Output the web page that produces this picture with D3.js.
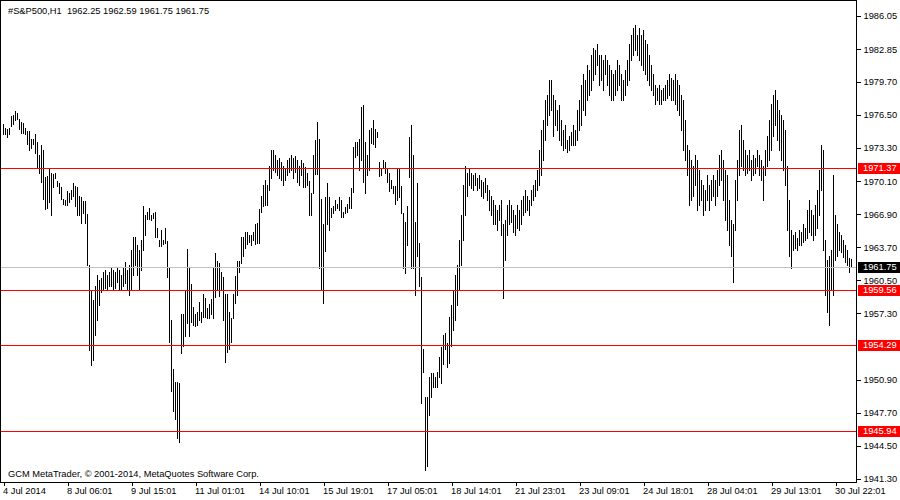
<!DOCTYPE html>
<html><head><meta charset="utf-8">
<script src="https://cdn.jsdelivr.net/npm/d3@7"></script>
<style>
html,body{margin:0;padding:0;background:#fff;}
svg text{font-family:"Liberation Sans",Arial,sans-serif;font-size:9.3px;white-space:pre;}
</style></head>
<body>
<svg id="c" width="900" height="500"></svg>
<script>
const title = "#S&P500,H1  1962.25 1962.59 1961.75 1961.75";
const footer = "GCM MetaTrader, \u00a9 2001-2014, MetaQuotes Software Corp.";
const timeLabels = ["4 Jul 2014","8 Jul 06:01","9 Jul 15:01","11 Jul 01:01","14 Jul 10:01","15 Jul 19:01","17 Jul 05:01","18 Jul 14:01","21 Jul 23:01","23 Jul 09:01","24 Jul 18:01","28 Jul 04:01","29 Jul 13:01","30 Jul 22:01"];
const timeLabelBars = [0,32,64,96,128,160,192,224,256,288,320,352,384,416];
const priceTicks = [1986.05,1982.85,1979.70,1976.50,1973.30,1970.10,1966.90,1963.70,1960.50,1957.30,1950.90,1947.70,1944.50,1941.30];
const levelLines = [1971.37,1959.56,1954.29,1945.94];
const bidPrice = 1961.75;

const highs = [
1975.6,1975.2,1975.1,1975.2,1976.4,1976.5,1976.9,1976.7,1976.1,1975.8,
1975.7,1975.2,1974.9,1974.9,1974.2,1974.2,1974.6,1973.9,1972.6,1973.6,
1973.1,1970.5,1970.6,1971.4,1970.9,1970.8,1970.9,1970.1,1969.9,1969.5,
1968.4,1968.3,1969.1,1968.9,1969.2,1969.9,1969.6,1969.5,1968.7,1968.6,
1968.2,1968.2,1966.9,1962.0,1959.6,1958.6,1960.0,1961.0,1960.5,1960.7,
1961.3,1961.5,1961.0,1961.3,1961.7,1961.5,1961.3,1961.7,1961.5,1961.0,
1961.7,1962.3,1961.5,1962.0,1963.4,1964.7,1964.7,1963.9,1963.4,1964.4,
1967.7,1966.8,1967.1,1967.5,1966.8,1967.0,1967.1,1965.6,1964.4,1965.4,
1964.4,1965.6,1964.3,1961.8,1956.7,1951.9,1950.7,1950.7,1950.6,1957.2,
1957.2,1959.6,1963.5,1961.7,1960.1,1957.9,1957.2,1957.4,1958.4,1957.4,
1959.2,1958.8,1957.8,1958.2,1958.7,1961.7,1963.1,1962.4,1962.2,1961.3,
1960.8,1959.2,1959.2,1957.4,1956.9,1959.2,1960.9,1962.4,1962.4,1964.7,
1964.7,1965.2,1965.2,1964.9,1964.9,1965.2,1965.9,1966.0,1967.4,1968.7,
1969.7,1970.2,1969.7,1971.6,1973.1,1973.1,1972.6,1972.1,1972.3,1971.9,
1971.6,1971.4,1972.1,1972.3,1972.6,1972.3,1972.5,1972.1,1971.6,1972.1,
1971.8,1971.5,1970.9,1970.1,1968.9,1972.6,1974.1,1975.8,1974.2,1968.4,
1965.9,1968.6,1969.9,1968.6,1967.5,1967.7,1968.3,1967.9,1968.6,1968.3,
1967.1,1967.6,1967.9,1968.6,1969.4,1973.4,1973.9,1973.9,1974.2,1977.3,
1977.4,1973.9,1972.6,1975.0,1975.2,1976.0,1975.1,1974.8,1971.9,1971.4,
1972.1,1971.9,1971.4,1970.9,1970.2,1969.6,1969.6,1971.4,1971.4,1969.6,
1967.0,1966.1,1967.7,1974.4,1975.5,1972.6,1966.1,1969.9,1964.1,1960.8,
1953.9,1949.2,1949.2,1951.2,1951.5,1951.5,1951.2,1951.6,1953.1,1954.1,
1955.2,1955.4,1954.4,1957.0,1958.1,1959.6,1961.0,1962.0,1964.4,1966.8,
1969.7,1971.6,1970.9,1971.4,1970.9,1970.7,1970.9,1970.4,1970.7,1970.2,
1970.0,1970.4,1969.7,1969.2,1968.7,1968.3,1967.8,1967.3,1967.8,1968.3,
1965.9,1966.3,1967.8,1968.3,1967.8,1967.3,1966.8,1967.8,1967.3,1968.3,
1968.7,1969.2,1968.7,1968.3,1969.2,1969.7,1970.2,1971.2,1973.1,1975.0,
1976.0,1977.9,1978.4,1979.9,1979.9,1978.4,1977.9,1977.0,1977.4,1976.0,
1975.0,1975.5,1974.1,1974.5,1974.8,1975.5,1975.0,1977.0,1977.9,1979.4,
1980.4,1979.9,1981.3,1980.8,1982.3,1983.0,1982.8,1983.3,1982.3,1982.3,
1981.8,1982.3,1981.8,1981.3,1980.8,1980.4,1980.8,1981.8,1981.3,1980.4,
1979.9,1980.8,1981.8,1983.3,1984.2,1984.9,1985.2,1984.2,1984.9,1984.2,
1984.7,1983.7,1983.3,1982.3,1981.3,1980.4,1979.4,1979.1,1979.4,1978.9,
1979.1,1979.4,1979.9,1980.4,1980.1,1979.9,1980.4,1979.9,1979.4,1978.4,
1977.9,1976.0,1973.6,1973.1,1972.1,1971.6,1972.6,1972.1,1971.2,1970.2,
1969.7,1969.2,1970.7,1969.7,1970.2,1970.7,1970.2,1971.2,1972.6,1973.1,
1972.1,1971.2,1970.7,1968.3,1966.3,1965.9,1970.2,1972.1,1975.0,1975.5,
1974.1,1973.1,1972.6,1973.1,1972.1,1972.6,1972.3,1973.1,1972.6,1972.1,
1971.6,1973.1,1974.5,1976.0,1977.5,1978.4,1978.9,1977.9,1977.0,1976.5,
1976.0,1975.0,1971.6,1968.3,1965.4,1964.9,1965.2,1964.6,1965.4,1965.2,
1965.9,1965.6,1967.3,1968.3,1967.3,1966.8,1967.8,1969.2,1971.2,1973.6,
1973.1,1964.4,1962.5,1962.9,1963.4,1970.7,1966.8,1965.9,1965.2,1964.9,
1964.4,1963.9,1963.4,1962.7,1962.59
];
const lows = [
1974.6,1974.6,1974.4,1974.6,1975.4,1975.6,1976.0,1976.1,1975.1,1974.7,
1974.7,1974.6,1973.7,1973.1,1973.3,1973.7,1972.8,1971.5,1970.9,1970.0,
1968.4,1967.4,1967.5,1968.1,1966.8,1969.5,1970.4,1969.6,1968.9,1968.4,
1967.9,1967.8,1967.8,1968.1,1968.4,1968.7,1967.7,1966.8,1966.8,1966.0,
1967.0,1966.0,1962.0,1953.8,1952.3,1952.8,1955.2,1956.7,1958.1,1959.4,
1959.6,1959.8,1959.6,1960.0,1960.0,1959.6,1959.8,1960.3,1959.6,1959.6,
1960.0,1960.2,1959.6,1959.1,1959.6,1961.0,1962.0,1961.0,1959.6,1961.5,
1963.4,1964.9,1966.4,1966.4,1966.3,1966.5,1964.7,1964.7,1963.8,1963.8,
1964.0,1964.1,1960.8,1954.5,1949.8,1947.9,1947.1,1945.3,1944.9,1953.5,
1954.2,1955.1,1956.4,1955.1,1956.5,1956.2,1956.1,1956.2,1956.7,1956.5,
1957.0,1957.0,1956.9,1956.9,1957.2,1956.9,1958.9,1959.6,1959.0,1959.6,
1956.7,1952.6,1953.6,1953.9,1954.5,1956.9,1958.3,1959.1,1961.3,1962.2,
1962.9,1963.6,1964.0,1964.2,1963.9,1964.4,1964.0,1964.1,1964.1,1967.1,
1967.7,1967.8,1967.8,1969.2,1970.4,1971.2,1971.0,1970.7,1970.4,1970.2,
1969.7,1970.2,1970.7,1971.0,1971.2,1970.4,1971.0,1970.0,1969.7,1970.7,
1969.5,1969.5,1969.7,1966.8,1966.8,1968.9,1970.8,1970.8,1961.7,1959.6,
1958.3,1963.3,1965.9,1965.4,1966.6,1967.0,1967.3,1967.5,1967.3,1966.6,
1966.6,1967.0,1967.1,1967.5,1967.5,1969.0,1972.4,1972.6,1971.2,1972.1,
1970.0,1968.9,1970.7,1971.2,1973.8,1973.7,1973.4,1974.4,1970.6,1970.7,
1971.5,1970.9,1970.0,1969.1,1969.4,1968.9,1967.9,1968.3,1968.6,1967.0,
1961.7,1961.2,1963.9,1970.5,1961.7,1961.7,1959.1,1962.9,1960.0,1948.6,
1951.6,1942.2,1942.6,1947.5,1949.2,1950.2,1950.2,1950.2,1951.2,1950.6,
1952.4,1953.9,1952.1,1952.5,1954.2,1955.7,1956.7,1958.1,1959.6,1962.0,
1964.4,1966.8,1968.7,1969.7,1969.4,1969.2,1969.7,1969.2,1969.4,1968.7,
1968.5,1969.0,1968.3,1967.3,1966.8,1965.9,1965.9,1965.4,1966.3,1964.9,
1958.8,1962.5,1964.9,1965.9,1966.1,1965.2,1964.9,1965.6,1965.4,1965.9,
1966.8,1967.1,1967.3,1966.8,1967.8,1968.3,1968.7,1969.2,1969.7,1970.7,
1972.1,1974.1,1975.5,1976.5,1977.0,1974.5,1975.5,1975.0,1974.1,1973.6,
1973.1,1973.3,1972.9,1973.1,1973.6,1973.6,1973.6,1974.1,1975.0,1975.5,
1977.0,1976.5,1977.9,1978.4,1978.9,1979.9,1980.4,1981.3,1979.4,1979.9,
1978.9,1980.4,1979.4,1978.4,1977.9,1977.9,1978.4,1978.9,1979.4,1977.9,
1977.9,1978.4,1979.4,1979.9,1981.8,1982.3,1982.8,1982.3,1981.8,1981.3,
1980.8,1980.4,1979.9,1979.4,1978.9,1978.4,1977.5,1977.9,1977.5,1977.5,
1977.9,1977.9,1978.1,1978.4,1977.9,1977.9,1977.5,1977.0,1976.5,1975.0,
1973.1,1972.1,1970.7,1967.8,1968.3,1968.7,1969.7,1967.3,1967.8,1968.3,
1966.8,1967.3,1968.3,1967.3,1968.3,1968.7,1967.8,1968.7,1969.7,1970.2,
1968.3,1966.3,1965.4,1963.9,1962.9,1960.3,1965.4,1968.3,1970.7,1971.6,
1971.2,1970.7,1970.9,1971.2,1970.2,1970.7,1970.9,1971.6,1970.7,1970.2,
1968.3,1970.7,1971.6,1972.1,1973.1,1974.5,1975.5,1974.1,1973.1,1972.1,
1971.2,1969.7,1965.4,1962.9,1961.7,1963.4,1963.6,1963.4,1963.9,1963.9,
1964.2,1964.4,1964.6,1965.2,1964.9,1964.4,1964.9,1965.6,1966.8,1969.2,
1963.4,1959.1,1957.4,1956.2,1959.6,1959.1,1962.5,1962.9,1963.4,1963.2,
1962.8,1962.3,1962.0,1961.3,1961.75
];

const n = highs.length;
const W = 856, H = 482;
const svg = d3.select("#c");
const x = d3.scaleLinear().domain([0, n - 1]).range([3.5, 3.5 + 2 * (n - 1)]);
const y = d3.scaleLinear().domain([1941.30, 1986.05]).range([479, 16]);

// bars
svg.append("g").attr("shape-rendering","crispEdges")
  .selectAll("line").data(d3.range(n)).join("line")
  .attr("x1", i => x(i)).attr("x2", i => x(i))
  .attr("y1", i => Math.round(y(highs[i]))).attr("y2", i => Math.round(y(lows[i])) + 1)
  .attr("stroke", "#000").attr("stroke-width", 1);

// bid line
svg.append("line").attr("x1",0).attr("x2",W)
  .attr("y1", Math.round(y(bidPrice))+0.5).attr("y2", Math.round(y(bidPrice))+0.5)
  .attr("stroke","#c0c0c0").attr("stroke-width",1);

// level lines
svg.append("g").selectAll("line").data(levelLines).join("line")
  .attr("x1",0).attr("x2",W)
  .attr("y1", d => Math.round(y(d))+0.5).attr("y2", d => Math.round(y(d))+0.5)
  .attr("stroke","#ff0000").attr("stroke-width",1);

// frame
svg.append("path").attr("d", `M0.5,${H+0.5}V0.5H${W+0.5}V${H+0.5}H0.5`)
  .attr("fill","none").attr("stroke","#000").attr("stroke-width",1)
  .attr("shape-rendering","crispEdges");

// right axis
const ay = svg.append("g").attr("transform", `translate(${W+0.5},0)`)
  .call(d3.axisRight(y).tickValues(priceTicks).tickSize(4).tickPadding(3).tickFormat(d3.format(".2f")));
ay.select(".domain").remove();
ay.selectAll("line").attr("stroke","#000").attr("shape-rendering","crispEdges");
ay.selectAll("text").attr("fill","#000").style("font-family","Liberation Sans, Arial, sans-serif").style("font-size","9.3px");

// price boxes
const boxes = levelLines.map(v => ({v, fill:"#ff0000"})).concat([{v: bidPrice, fill:"#000"}]);
const bg = svg.append("g").selectAll("g").data(boxes).join("g")
  .attr("transform", d => `translate(${W+2},${Math.round(y(d.v))})`);
bg.append("rect").attr("x",0).attr("y",-5).attr("width",42).attr("height",11).attr("fill", d => d.fill);
bg.append("text").attr("x",5).attr("y",0.5).attr("dy","0.32em").attr("fill","#fff").text(d => d.v.toFixed(2));

// bottom axis
const ax = svg.append("g").attr("transform", `translate(0,${H+0.5})`)
  .call(d3.axisBottom(x).tickValues(timeLabelBars).tickSize(3).tickFormat((d,k) => timeLabels[k]));
ax.select(".domain").remove();
ax.selectAll("line").attr("stroke","#000").attr("shape-rendering","crispEdges");
ax.selectAll("text").attr("fill","#000").attr("text-anchor","start").attr("dx","-1").attr("y",5)
  .style("font-family","Liberation Sans, Arial, sans-serif").style("font-size","9.3px");

// title and footer
svg.append("text").attr("x",8).attr("y",14).attr("fill","#000").attr("xml:space","preserve").text(title);
svg.append("text").attr("x",8).attr("y",477).attr("fill","#000").text(footer);
</script>
</body></html>
